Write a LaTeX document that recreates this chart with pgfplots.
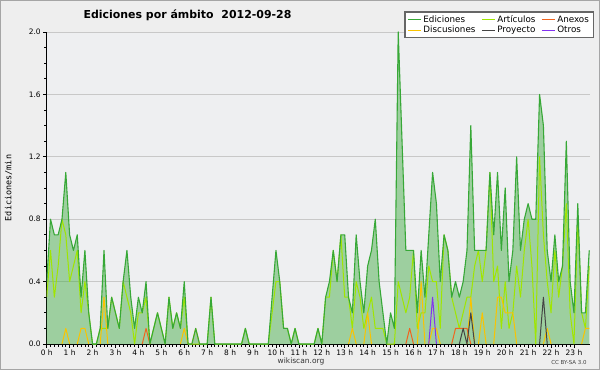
\documentclass[border=0pt]{standalone}
\usepackage{fontspec}
\setmainfont{DejaVu Sans}
\newfontfamily\monofont{DejaVu Sans Mono}
\usepackage{pgfplots}
\usepackage{pgfplotstable}
\pgfplotsset{compat=1.18}

\definecolor{pagebg}{RGB}{238,238,238}
\definecolor{plotbg}{RGB}{238,239,241}
\definecolor{framec}{RGB}{165,165,165}
\definecolor{edline}{RGB}{55,168,55}
\definecolor{edfill}{RGB}{60,170,60}
\definecolor{artc}{RGB}{160,230,0}
\definecolor{discc}{RGB}{250,195,0}
\definecolor{anexc}{RGB}{240,100,30}
\definecolor{proyc}{RGB}{68,68,68}
\definecolor{otrosc}{RGB}{130,50,240}
\definecolor{gridc}{RGB}{200,200,200}

\pgfplotstableread{
t ed art
0 0.4 0.3
1 0.8 0.6
2 0.7 0.3
3 0.7 0.5
4 0.8 0.8
5 1.1 0.7
6 0.7 0.4
7 0.6 0.5
8 0.7 0.6
9 0.3 0.2
10 0.6 0.4
11 0.2 0.2
12 0 0
13 0 0
14 0.1 0.1
15 0.6 0.1
16 0.1 0.1
17 0.3 0.3
18 0.2 0.2
19 0.1 0.1
20 0.4 0.4
21 0.6 0.3
22 0.3 0.2
23 0.1 0
24 0.3 0.2
25 0.2 0.2
26 0.4 0.3
27 0 0
28 0.1 0.1
29 0.2 0.2
30 0.1 0.1
31 0 0
32 0.3 0.3
33 0.1 0.1
34 0.2 0.2
35 0.1 0.1
36 0.4 0.3
37 0 0
38 0 0
39 0.1 0
40 0 0
41 0 0
42 0 0
43 0.3 0.3
44 0 0
45 0 0
46 0 0
47 0 0
48 0 0
49 0 0
50 0 0
51 0 0
52 0.1 0.1
53 0 0
54 0 0
55 0 0
56 0 0
57 0 0
58 0 0
59 0.3 0.2
60 0.6 0.4
61 0.4 0.4
62 0.1 0.1
63 0.1 0.1
64 0 0
65 0.1 0.1
66 0 0
67 0 0
68 0 0
69 0 0
70 0 0
71 0.1 0.1
72 0 0
73 0.3 0.3
74 0.4 0.3
75 0.6 0.6
76 0.4 0.4
77 0.7 0.7
78 0.7 0.3
79 0.3 0.3
80 0.2 0.1
81 0.7 0.4
82 0.4 0.3
83 0.2 0.1
84 0.5 0.2
85 0.6 0.3
86 0.8 0.1
87 0.4 0.1
88 0.2 0.1
89 0 0
90 0.2 0
91 0.1 0
92 2.0 0.4
93 1.3 0.3
94 0.6 0.2
95 0.6 0.3
96 0.6 0.6
97 0.2 0.1
98 0.6 0.2
99 0.3 0.2
100 0.7 0.5
101 1.1 0.4
102 0.9 0.4
103 0.4 0.1
104 0.7 0.7
105 0.6 0.6
106 0.3 0.3
107 0.4 0.2
108 0.3 0.1
109 0.4 0.2
110 0.6 0.3
111 1.4 0.3
112 0.6 0.5
113 0.6 0.6
114 0.6 0.4
115 0.6 0.6
116 1.1 1.1
117 0.7 0.4
118 1.1 0.5
119 0.6 0.1
120 1.0 0.4
121 0.4 0.1
122 0.6 0.2
123 1.2 0.5
124 0.6 0.3
125 0.8 0.6
126 0.9 0.8
127 0.8 0.5
128 0.8 0
129 1.6 1.2
130 1.4 0.7
131 0.6 0.4
132 0.4 0.2
133 0.7 0.6
134 0.4 0.3
135 0.5 0.5
136 1.3 0.9
137 0.4 0.2
138 0.2 0
139 0.9 0.8
140 0.2 0.2
141 0.2 0.1
142 0.6 0.5
}\maintable

\begin{document}
\begin{tikzpicture}[x=1bp,y=1bp]
\useasboundingbox (0,0) rectangle (600,370);
\fill[pagebg] (0,0) rectangle (600,370);
\draw[framec, line width=1bp] (0.5,0.5) rectangle (599.5,369.5);

\begin{axis}[
  at={(46.7bp,26bp)}, anchor=south west,
  scale only axis, width=543.3bp, height=312bp,
  xmin=0, xmax=142.2, ymin=0, ymax=2,
  axis background/.style={fill=plotbg},
  axis x line*=bottom, axis y line*=left,
  axis line style={black, line width=0.8bp},
  xtick={0,6,...,138},
  xticklabels={0 h,1 h,2 h,3 h,4 h,5 h,6 h,7 h,8 h,9 h,10 h,11 h,12 h,13 h,14 h,15 h,16 h,17 h,18 h,19 h,20 h,21 h,22 h,23 h},
  minor x tick num=5,
  ytick={0,0.4,0.8,1.2,1.6,2.0},
  minor y tick num=3,
  ymajorgrids, major grid style={gridc, line width=0.8bp},
  tick align=outside,
  major tick length=3.5bp, minor tick length=2.5bp,
  tick style={black, line width=0.7bp},
  /pgf/number format/fixed,
  /pgf/number format/fixed zerofill,
  /pgf/number format/precision=1,
  /pgf/number format/assume math mode=true,
  ticklabel style={font=\fontsize{7.5}{8}\selectfont},
  xticklabel style={yshift=1.5bp},
  yticklabel style={xshift=1bp},
  ylabel={\monofont Ediciones/min},
  ylabel style={font=\fontsize{8.5}{9}\selectfont, at={(axis description cs:-0.07,0.5)}, anchor=center},
  legend columns=3,
  legend cell align=left,
  legend style={at={(axis description cs:1.0075,1.066)}, anchor=north east,
    draw=gray!80!black, line width=1.4bp, fill=white,
    font=\fontsize{8.8}{9}\selectfont, inner xsep=2.5bp, inner ysep=1.5bp, row sep=-2bp,
    /tikz/every even column/.append style={column sep=4bp}},
  legend image code/.code={\draw[#1, line width=0.8bp] (0bp,0bp) -- (13bp,0bp);},
  unbounded coords=jump,
]
\addlegendimage{edline}
\addlegendentry{Ediciones}
\addlegendimage{artc}
\addlegendentry{Artículos}
\addlegendimage{anexc}
\addlegendentry{Anexos}
\addlegendimage{discc}
\addlegendentry{Discusiones}
\addlegendimage{proyc}
\addlegendentry{Proyecto}
\addlegendimage{otrosc}
\addlegendentry{Otros}

\addplot[forget plot, draw=none, fill=edfill, fill opacity=0.45] table[x=t, y=ed] {\maintable} \closedcycle;
\addplot[forget plot, artc, line width=1bp, line join=round] table[x=t, y=art] {\maintable};
\addplot[forget plot, discc, line width=1bp, line join=round] coordinates {
(4,0)(5,0.1)(6,0) (7,nan)
(8,0)(9,0.1)(10,0.1)(11,0) (12,nan)
(14,0)(15,0.3)(16,0) (17,nan)
(35,0)(36,0.1)(37,0) (37.5,nan)
(38,0)(39,0.1)(40,0) (41,nan)
(79,0)(80,0.1)(81,0) (82,nan)
(83,0)(84,0.2)(85,0) (86,nan)
(97,0)(98,0.4)(99,0) (99.5,nan)
(100,0)(101,0.1)(102,0.1)(103,0) (104,nan)
(110,0)(111,0.3)(112,0) (112.5,nan)
(113,0)(114,0.2)(115,0) (116,nan)
(117,0)(118,0.3)(119,0.3)(120,0.2)(121,0.2)(122,0.2)(123,0) (124,nan)
(130,0)(131,0.1)(132,0) (135,nan)
(140,0)(141,0.1)(142,0.1)
};
\addplot[forget plot, anexc, line width=1bp, line join=round] coordinates {
(25,0)(26,0.1)(27,0) (30,nan)
(94,0)(95,0.1)(96,0) (100,nan)
(106,0)(107,0.1)(108,0.1)(109,0.1)(110,0.1)(111,0)
};
\addplot[forget plot, proyc, line width=1bp, line join=round] coordinates {
(108,0)(109,0.1)(110,0)(111,0.2)(112,0) (120,nan)
(129,0)(130,0.3)(131,0)
};
\addplot[forget plot, otrosc, line width=1bp, line join=round] coordinates {
(100,0)(101,0.3)(102,0)
};
\addplot[forget plot, edline, line width=1.1bp, line join=round] table[x=t, y=ed] {\maintable};
\end{axis}

\node[font=\bfseries\fontsize{11}{12}\selectfont, anchor=center] at (187.5,355) {Ediciones por ámbito\ \ 2012-09-28};
\node[font=\fontsize{7.5}{8}\selectfont, text=black!80, anchor=center] at (301,9) {wikiscan.org};
\node[font=\fontsize{5.5}{6}\selectfont, text=black!75, anchor=center] at (569,7.5) {CC BY-SA 3.0};
\end{tikzpicture}
\end{document}
